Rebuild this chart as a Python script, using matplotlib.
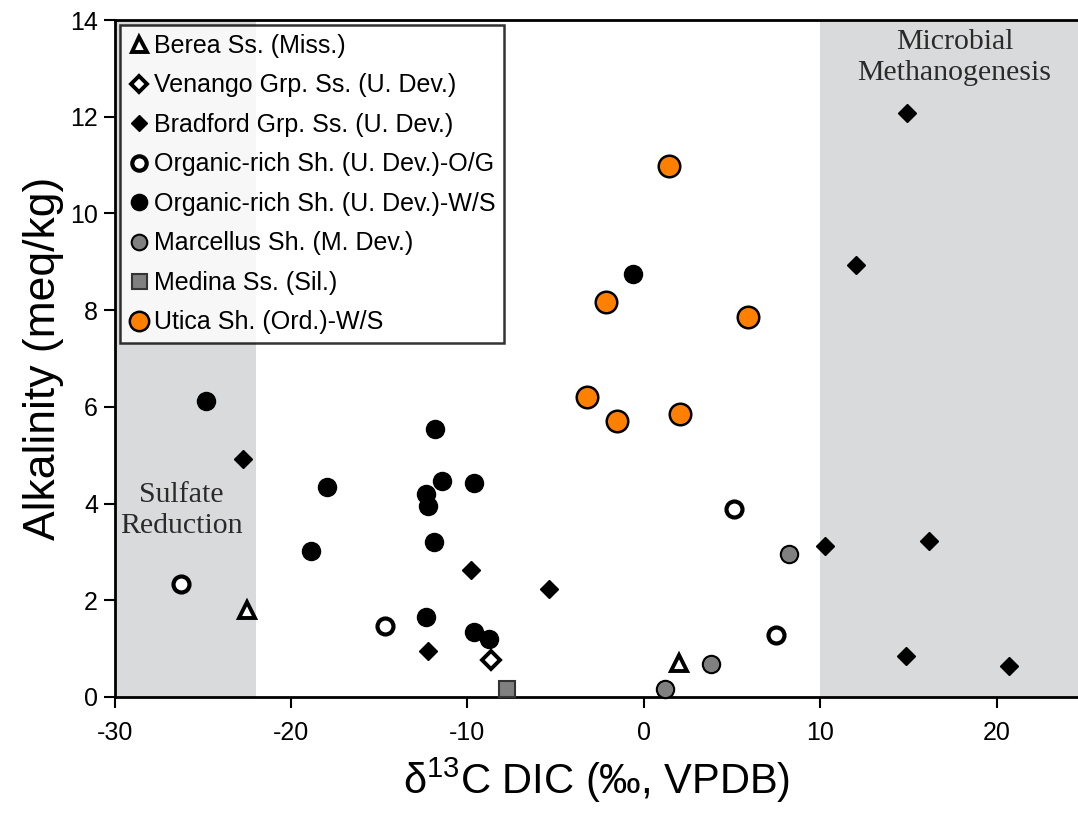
import matplotlib
matplotlib.use("Agg")
import matplotlib.pyplot as plt

plt.rcParams['font.family'] = ['Liberation Sans', 'DejaVu Sans']
plt.rcParams['mathtext.fontset'] = 'custom'
plt.rcParams['mathtext.rm'] = 'Liberation Sans'
plt.rcParams['mathtext.it'] = 'Liberation Sans:italic'
plt.rcParams['axes.unicode_minus'] = False

# ---- data (delta13C DIC, alkalinity) ----
berea_x = [-22.49, 1.98]
berea_y = [1.80, 0.71]
venango_x = [-8.69]
venango_y = [0.77]
bradford_x = [-22.71, -9.78, -12.21, -5.36, 10.28, 14.91, 12.02, 16.17, 14.85, 20.70]
bradford_y = [4.92, 2.63, 0.96, 2.23, 3.12, 12.07, 8.93, 3.23, 0.84, 0.64]
og_x = [-26.26, -14.69, 5.13, 7.49]
og_y = [2.34, 1.47, 3.89, 1.29]
ws_x = [-24.82, -11.84, -11.42, -9.61, -17.97, -12.33, -12.21, -11.91, -18.86, -12.33, -9.65, -8.78, -0.63]
ws_y = [6.13, 5.54, 4.47, 4.42, 4.34, 4.19, 3.95, 3.20, 3.01, 1.65, 1.35, 1.20, 8.75]
marcellus_x = [8.20, 3.81, 1.20]
marcellus_y = [2.95, 0.68, 0.17]
medina_x = [-7.74]
medina_y = [0.16]
utica_x = [1.41, -2.17, 5.89, -3.23, -1.50, 2.05]
utica_y = [10.99, 8.17, 7.85, 6.20, 5.70, 5.86]

labels = ["Berea Ss. (Miss.)", "Venango Grp. Ss. (U. Dev.)", "Bradford Grp. Ss. (U. Dev.)",
          "Organic-rich Sh. (U. Dev.)-O/G", "Organic-rich Sh. (U. Dev.)-W/S",
          "Marcellus Sh. (M. Dev.)", "Medina Ss. (Sil.)", "Utica Sh. (Ord.)-W/S"]

sulfate_range = (-30, -22)
methano_range = (10, 24.6)

fig = plt.figure(figsize=(10.78, 8.17), dpi=100)
ax = fig.add_axes([0.1063, 0.1469, 0.8937, 0.8286])

gray = '#d9dadb'
ax.axvspan(*sulfate_range, color=gray, zorder=0, lw=0)
ax.axvspan(*methano_range, color=gray, zorder=0, lw=0)

common = dict(linestyle='none', clip_on=False, zorder=3)
ax.plot(berea_x, berea_y, marker='^', ms=12, mfc='white', mec='black', mew=2.8, label=labels[0], **common)
ax.plot(venango_x, venango_y, marker='D', ms=9, mfc='white', mec='black', mew=2.8, label=labels[1], **common)
ax.plot(bradford_x, bradford_y, marker='D', ms=9.5, mfc='black', mec='black', mew=1, label=labels[2], **common)
ax.plot(og_x, og_y, marker='o', ms=11.5, mfc='white', mec='black', mew=3, label=labels[3], **common)
ax.plot(ws_x, ws_y, marker='o', ms=13, mfc='black', mec='black', mew=1, label=labels[4], **common)
ax.plot(marcellus_x, marcellus_y, marker='o', ms=12.5, mfc='#808080', mec='black', mew=1.5, label=labels[5], **common)
ax.plot(medina_x, medina_y, marker='s', ms=12, mfc='#808080', mec='#333333', mew=1.5, label=labels[6], **common)
ax.plot(utica_x, utica_y, marker='o', ms=15.5, mfc='#ff8000', mec='black', mew=1.8, label=labels[7], **common)

ax.set_xlim(-30, 24.6)
ax.set_ylim(0, 14)
ax.set_xticks([-30, -20, -10, 0, 10, 20])
ax.set_yticks([0, 2, 4, 6, 8, 10, 12, 14])
ax.tick_params(axis='both', direction='out', length=8, width=1.5, labelsize=18, colors='black')
ax.tick_params(axis='x', pad=9)
ax.tick_params(axis='y', pad=4)
for s in ['left', 'bottom', 'top']:
    ax.spines[s].set_linewidth(2)
    ax.spines[s].set_color('black')
ax.spines['right'].set_visible(False)

ax.set_ylabel('Alkalinity (meq/kg)', fontsize=32, labelpad=4)
ax.set_xlabel(r'$\mathrm{\delta}^{13}$C DIC (‰, VPDB)', fontsize=30, labelpad=8)

ax.text(-26.2, 3.85, 'Sulfate\nReduction', family='Liberation Serif', fontsize=21.5,
        ha='center', va='center', color='#2a2a2a', linespacing=1.25, zorder=2)
ax.text(17.6, 13.82, 'Microbial\nMethanogenesis', family='Liberation Serif', fontsize=21.5,
        ha='center', va='top', color='#2a2a2a', linespacing=1.25, zorder=2)

leg = ax.legend(loc='upper left', bbox_to_anchor=(0.0056, 0.9926), borderaxespad=0,
                fontsize=18, frameon=True, fancybox=False, edgecolor='black',
                handlelength=0.8, handletextpad=0.2, labelspacing=0.62, borderpad=0.35,
                markerscale=0.9, numpoints=1)
leg.get_frame().set_linewidth(1.8)
leg.set_zorder(5)

fig.savefig('out.png', dpi=100)
